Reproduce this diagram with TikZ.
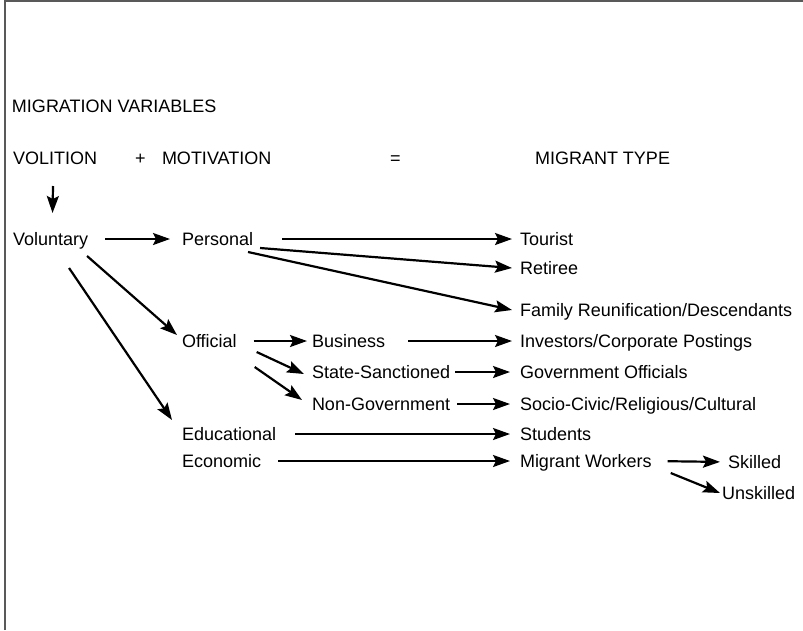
\documentclass[tikz,border=0pt]{standalone}
\usepackage{fontspec}
\setmainfont{Liberation Sans}
\usetikzlibrary{arrows.meta,calc}

\tikzset{
    lbl/.style={anchor=base west, inner sep=0pt, outer sep=0pt, text height=12pt, text depth=0pt, font=\fontsize{18}{22}\selectfont},
    arr/.style={line width=2.2pt, -{Stealth[length=17pt,width=12pt,inset=3pt]}},
    frame/.style={draw=black!65, line width=1.5pt}
}

\begin{document}
\begin{tikzpicture}[x=1pt,y=-1pt]
        \useasboundingbox (0,0) rectangle (803,630);
        \draw[frame] (5,630) -- (5,1) -- (803,1);

        \node[lbl] (title) at (12,112) {MIGRATION VARIABLES};
        \node[lbl] (vol) at (13,164) {VOLITION};
        \node[lbl] (plus) at (135,164) {+};
        \node[lbl] (mot) at (162,164) {MOTIVATION};
        \node[lbl] (eq) at (390,164) {=};
        \node[lbl] (mtype) at (535,164) {MIGRANT TYPE};

        \node[lbl] (volun) at (13,245) {Voluntary};
        \node[lbl] (pers) at (182,245) {Personal};
        \node[lbl] (off) at (182,347) {Official};
        \node[lbl] (edu) at (182,440) {Educational};
        \node[lbl] (eco) at (182,467) {Economic};
        \node[lbl] (bus) at (312,347) {Business};
        \node[lbl] (state) at (312,378) {State-Sanctioned};
        \node[lbl] (ngo) at (312,410) {Non-Government};

        \node[lbl] (tour) at (520,245) {Tourist};
        \node[lbl] (ret) at (520,274) {Retiree};
        \node[lbl] (fam) at (520,316) {Family Reunification/Descendants};
        \node[lbl] (inv) at (520,347) {Investors/Corporate Postings};
        \node[lbl] (gov) at (520,378) {Government Officials};
        \node[lbl] (soc) at (520,410) {Socio-Civic/Religious/Cultural};
        \node[lbl] (stud) at (520,440) {Students};
        \node[lbl] (work) at (520,467) {Migrant Workers};
        \node[lbl] (skill) at (728,468) {Skilled};
        \node[lbl] (unsk) at (722,499) {Unskilled};

        % from Voluntary
        \draw[arr] ($(vol.south)+(-2,22)$) -- ($(volun.north)+(2,-20)$);
        \draw[arr, shorten <=17pt, shorten >=12pt] (volun.east) -- (pers.west);
        \draw[arr] ($(volun.east)+(-1,17)$) -- ($(off.west)+(-5,-6)$);
        \draw[arr] ($(volun.east)+(-19,29)$) -- ($(edu.west)+(-10,-14)$);

        % from Personal
        \draw[arr, shorten <=29pt, shorten >=8pt] (pers.east) -- (tour.west);
        \draw[arr] ($(pers.east)+(7,9)$) -- ($(ret.west)+(-8,0)$);
        \draw[arr] ($(pers.east)+(-5,13)$) -- ($(fam.west)+(-8,0)$);

        % from Official
        \draw[arr, shorten <=17pt, shorten >=5pt] (off.east) -- (bus.west);
        \draw[arr] ($(off.east)+(20,11)$) -- ($(state.west)+(-8,2)$);
        \draw[arr] ($(off.east)+(18,26)$) -- ($(ngo.west)+(-10,-4)$);
        \draw[arr, shorten <=23pt, shorten >=8pt] (bus.east) -- (inv.west);
        \draw[arr, shorten <=5pt, shorten >=10pt] (state.east) -- (gov.west);
        \draw[arr, shorten <=7pt, shorten >=10pt] (ngo.east) -- (soc.west);

        % Educational, Economic
        \draw[arr, shorten <=19pt, shorten >=10pt] (edu.east) -- (stud.west);
        \draw[arr, shorten <=17pt, shorten >=10pt] (eco.east) -- (work.west);
        \draw[arr, shorten <=16pt, shorten >=8pt] (work.east) -- (skill.west);
        \draw[arr] ($(work.east)+(19,12)$) -- ($(unsk.west)+(-2,0)$);
    \end{tikzpicture}
\end{document}
